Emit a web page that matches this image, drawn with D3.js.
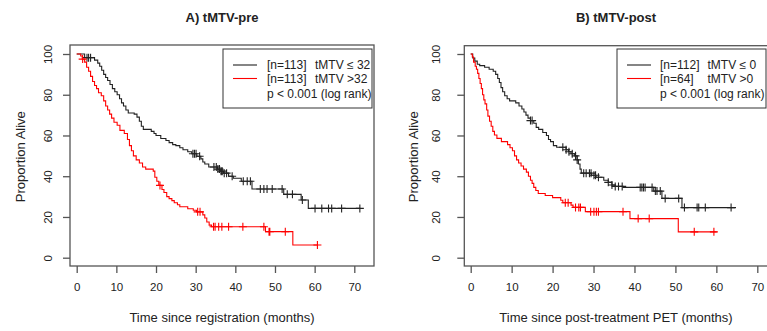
<!DOCTYPE html>
<html>
<head>
<meta charset="utf-8">
<script src="https://cdn.jsdelivr.net/npm/d3@7"></script>
<style>
  body { margin: 0; background: #fff; }
  text { font-family: "Liberation Sans", Arial, sans-serif; fill: #222; }
</style>
</head>
<body>
<svg id="chart" width="767" height="331"></svg>
<script>
const xTicks = [0, 10, 20, 30, 40, 50, 60, 70];
const yTicks = [0, 20, 40, 60, 80, 100];

// panel A: tMTV-pre, [months, % alive] steps
const preLowSteps = [[0,100],[2,98.2],[4.5,97],[5.3,95.5],[5.8,94],[6.3,92],[6.8,90],[7.3,88.5],[7.8,87],[8.4,85],[9,83],[9.6,81.5],[10.2,80],[10.8,78],[11.3,76],[11.8,74.5],[12.4,72.5],[13,71],[14.5,70.5],[15.2,69],[15.8,67],[16.3,64.5],[16.8,63],[18.8,62],[19.5,61],[20,60],[21.2,58.5],[22.5,57.5],[23.3,56.5],[24.2,55.5],[25,55],[26,54],[26.8,53],[28,52],[29,51],[30.3,49.8],[31.3,48.5],[31.8,47],[32.3,46],[33.3,44.5],[35.5,43.5],[36.2,42.5],[37,41.5],[38.3,40],[39.5,39],[41.5,37.5],[44.2,33.7],[52.2,31.1],[56.6,28.3],[58.4,24.2]];
const preLowEnd = 71.5;
const preLowCensor = [2.6,3.0,3.5,29.3,29.7,30.1,31.0,34.6,35.2,35.6,36.0,36.4,36.7,37.2,37.8,39.2,42.0,43.0,43.8,46.3,47.2,48.0,49.3,51.8,53.1,54.4,56.9,60.1,61.8,63.5,64.3,66.8,71.4];

const preHighSteps = [[0,100],[1,99],[1.4,97.5],[2,96],[2.5,93.5],[3,91.5],[3.5,89],[4,86.5],[4.5,84.5],[5,83],[5.5,81],[6.2,79.5],[6.8,77],[7.3,74.5],[7.8,72.5],[8.3,70.5],[8.8,68.5],[9.4,66.5],[10.2,65],[10.9,62.5],[12,61],[12.8,58],[13.3,55],[13.8,52.5],[14.3,50],[15,48],[15.8,46.5],[16.6,44.5],[17.4,43.5],[19.3,42.5],[19.7,39.5],[20.2,37.5],[20.7,35.5],[21.5,33.5],[22,32],[22.7,30],[23.3,29],[24,28],[24.6,27],[25.4,26],[26,25],[28,24],[29.4,23.3],[30.2,22.5],[31.8,21],[32.3,19.5],[32.8,17.5],[33.4,16],[34,15.2],[47.6,12.8],[54.5,6.2]];
const preHighEnd = 60.8;
const preHighCensor = [1.5,21.0,30.5,31.1,34.5,34.9,35.8,36.6,38.3,41.9,47.2,48.5,48.7,52.6,60.7];

// panel B: tMTV-post
const postLowSteps = [[0,100],[0.5,98],[1,96.5],[1.6,95],[2.2,94.3],[3.4,93.5],[4.5,92.5],[5.5,91.5],[6.1,90],[6.6,88],[7,86],[7.4,83.5],[7.8,81.5],[8.3,79.5],[8.9,78],[9.5,77],[11,76],[11.8,74.5],[12.5,73],[13,71.5],[13.5,70],[14,68.5],[14.6,67.3],[15.4,66],[16,64],[16.6,63],[17.6,61.5],[18.5,60],[19,58],[19.5,57],[20.2,55],[21,54.2],[23.3,53],[23.9,52],[24.5,51],[25.4,50],[26,48],[26.3,46],[26.7,43.5],[27,41.5],[29.5,40.5],[30.6,39.5],[32.5,38],[33.6,37],[34.5,35.7],[35.3,35],[37.2,34.5],[44.7,32.7],[46.7,29.1],[51.6,24.6]];
const postLowEnd = 64.8;
const postLowCensor = [14.6,15.0,22.5,23.3,24.0,24.8,25.6,26.0,27.6,28.2,29.0,29.4,30.1,30.5,31.2,33.6,34.5,35.3,36.1,37.0,41.4,41.8,42.2,42.6,44.3,45.1,45.5,46.3,47.5,50.8,52.2,55.3,55.7,57.3,63.6];

const postHighSteps = [[0,100],[0.4,98.5],[0.7,96],[1.1,94],[1.4,92.5],[1.7,90.5],[2,88],[2.3,85.5],[2.6,83],[2.9,80],[3.2,77.5],[3.5,75.5],[3.9,72.5],[4.2,69.5],[4.6,67],[5,64.5],[5.4,62],[5.8,60.2],[6.4,58.6],[7.5,57],[9,55.5],[9.6,54],[10.2,52.5],[10.7,50],[11.2,48],[11.7,46.5],[12.3,45],[12.9,43.5],[13.6,42],[14.1,40],[14.6,38],[15,36.5],[15.4,34.5],[15.9,33],[16.5,31.5],[18.2,30.5],[20,29.5],[22,28.2],[22.5,27],[24.5,25.8],[25,24.7],[28,22.6],[38.9,19.2],[50.7,12.7]];
const postHighEnd = 60.1;
const postHighCensor = [23.1,23.8,25.6,26.4,26.8,29.3,30.1,30.7,31.2,37.2,40.9,43.6,54.6,59.4];

const panels = [
  {
    title: "A) tMTV-pre", xLabel: "Time since registration (months)",
    box: [70, 374, 45, 266], xRange: [76.7, 354.3], cx: 222, yLab: 20.7, tickLab: 22,
    legend: { x: 223, y: 49, w: 149, textX: 267, tX: 315,
      rows: [["[n=113]", "tMTV \u2264 32"], ["[n=113]", "tMTV >32"]] },
    series: [
      { steps: preLowSteps, end: preLowEnd, censor: preLowCensor, color: "#222" },
      { steps: preHighSteps, end: preHighEnd, censor: preHighCensor, color: "#f00" }
    ]
  },
  {
    title: "B) tMTV-post", xLabel: "Time since post-treatment PET (months)",
    box: [464.3, 790, 45.7, 266], xRange: [470.7, 757.3], cx: 616, yLab: 413.3, tickLab: 28.5,
    legend: { x: 617, y: 49, w: 149, textX: 660, tX: 707.5,
      rows: [["[n=112]", "tMTV \u2264 0"], ["[n=64]", "tMTV >0"]] },
    series: [
      { steps: postLowSteps, end: postLowEnd, censor: postLowCensor, color: "#222" },
      { steps: postHighSteps, end: postHighEnd, censor: postHighCensor, color: "#f00" }
    ]
  }
];

const svg = d3.select("#chart");
const bis = d3.bisector(d => d[0]).right;

panels.forEach(p => {
  const [bx0, bx1, by0, by1] = p.box;
  const x = d3.scaleLinear().domain([0, 70]).range(p.xRange);
  const y = d3.scaleLinear().domain([0, 100]).range([257.7, 54]);
  const g = svg.append("g");

  g.append("text").attr("x", p.cx).attr("y", 22)
    .attr("text-anchor", "middle").attr("font-size", 13).attr("font-weight", "bold")
    .text(p.title);

  // series
  const line = d3.line().x(d => x(d[0])).y(d => y(d[1])).curve(d3.curveStepAfter);
  p.series.forEach(s => {
    const pts = s.steps.concat([[s.end, s.steps[s.steps.length - 1][1]]]);
    g.append("path").datum(pts)
      .attr("fill", "none").attr("stroke", s.color).attr("stroke-width", 1.1)
      .attr("d", line);
    g.append("path")
      .attr("fill", "none").attr("stroke", s.color).attr("stroke-width", 1.1)
      .attr("d", s.censor.map(t => {
        const v = s.steps[bis(s.steps, t) - 1][1];
        const cx = x(t), cy = y(v);
        return `M${cx - 4},${cy}H${cx + 4}M${cx},${cy - 4}V${cy + 4}`;
      }).join(""));
  });

  // box
  g.append("rect").attr("x", bx0).attr("y", by0)
    .attr("width", bx1 - bx0).attr("height", by1 - by0)
    .attr("fill", "none").attr("stroke", "#555").attr("stroke-width", 1.3);

  // axes
  const xAxis = g.append("g").attr("transform", `translate(0,${by1})`)
    .call(d3.axisBottom(x).tickValues(xTicks).tickSize(7).tickSizeOuter(0).tickPadding(0));
  xAxis.select(".domain").remove();
  xAxis.selectAll("line").attr("stroke", "#555").attr("stroke-width", 1.3);
  xAxis.selectAll("text").attr("y", 25).attr("dy", 0)
    .attr("font-size", 11.5).style("fill", "#222");

  const yAxis = g.append("g").attr("transform", `translate(${bx0},0)`)
    .call(d3.axisLeft(y).tickValues(yTicks).tickSize(7).tickSizeOuter(0));
  yAxis.select(".domain").remove();
  yAxis.selectAll("line").attr("stroke", "#555").attr("stroke-width", 1.3);
  yAxis.selectAll("text")
    .attr("x", null).attr("dy", null)
    .attr("transform", `translate(${-p.tickLab},0) rotate(-90)`)
    .attr("dy", "0.36em").attr("text-anchor", "middle")
    .attr("font-size", 11.5).style("fill", "#222");

  g.append("text").attr("x", p.cx).attr("y", 322)
    .attr("text-anchor", "middle").attr("font-size", 13).text(p.xLabel);
  g.append("text")
    .attr("transform", `translate(${p.yLab},156.7) rotate(-90)`)
    .attr("dy", "0.36em").attr("text-anchor", "middle").attr("font-size", 13)
    .text("Proportion Alive");

  // legend
  const L = p.legend;
  g.append("rect").attr("x", L.x).attr("y", L.y).attr("width", L.w).attr("height", 59)
    .attr("fill", "#fff").attr("stroke", "#333").attr("stroke-width", 1);
  const rowY = [65, 78.5, 94];
  L.rows.forEach((r, i) => {
    g.append("line").attr("x1", L.x + 10).attr("x2", L.x + 34)
      .attr("y1", rowY[i]).attr("y2", rowY[i])
      .attr("stroke", p.series[i].color).attr("stroke-width", 1.1);
    g.append("text").attr("x", L.textX).attr("y", rowY[i]).attr("dy", "0.36em")
      .attr("font-size", 12).text(r[0]);
    g.append("text").attr("x", L.tX).attr("y", rowY[i]).attr("dy", "0.36em")
      .attr("font-size", 12).text(r[1]);
  });
  g.append("text").attr("x", L.textX).attr("y", rowY[2]).attr("dy", "0.36em")
    .attr("font-size", 12).text("p < 0.001 (log rank)");
});
</script>
</body>
</html>
